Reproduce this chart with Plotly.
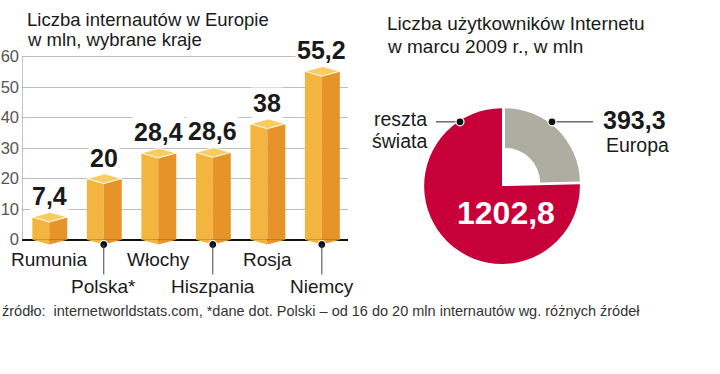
import plotly.graph_objects as go

# ---------------- data ----------------
countries = ["Rumunia", "Polska*", "Włochy", "Hiszpania", "Rosja", "Niemcy"]
users = [7.4, 20, 28.4, 28.6, 38, 55.2]
value_labels = ["7,4", "20", "28,4", "28,6", "38", "55,2"]
label_row = [0, 1, 0, 1, 0, 1]          # 0 = upper row, 1 = lower row with pointer
y_ticks = [0, 10, 20, 30, 40, 50, 60]

pie_labels = ["Europa", "reszta świata"]
pie_values = [393.3, 1202.8]
pie_value_labels = ["393,3", "1202,8"]

title_left = ["Liczba internautów w Europie", "w mln, wybrane kraje"]
title_right = ["Liczba użytkowników Internetu", "w marcu 2009 r., w mln"]
source = "źródło:  internetworldstats.com, *dane dot. Polski – od 16 do 20 mln internautów wg. różnych źródeł"

# ---------------- style ----------------
W, H = 720, 374
FONT = "Liberation Sans, Arial, sans-serif"
C_FRONT = "#F3B53F"
C_SIDE = "#E6932A"
C_TOP = "#F8CC5E"
C_RED = "#C8003A"
C_GREY = "#ADADA0"
WF, WS, D = 0.31, 0.33, 1.6   # front width, side width, iso depth (value units)
Y0, Y1 = -2.2, 60.4          # y range
PX_PER_UNIT = 188 / 60
Y_ZERO_PX = 238

def px(x):
    return x / W

def py(y):
    return 1 - y / H

idx = list(range(len(countries)))

fig = go.Figure()

# front and side faces
fig.add_trace(go.Bar(x=idx, y=users, offset=-WF, width=WF,
                     marker=dict(color=C_FRONT, line=dict(width=0)), hoverinfo="skip"))
fig.add_trace(go.Bar(x=idx, y=users, offset=0, width=WS,
                     marker=dict(color=C_SIDE, line=dict(width=0)), hoverinfo="skip"))

# bottom triangles (front corner below baseline)
bfx, bfy, bsx, bsy = [], [], [], []
for i, v in zip(idx, users):
    bfx += [i - WF, i, i, i - WF, None]
    bfy += [0, -D, 0, 0, None]
    bsx += [i, i + WS, i, i, None]
    bsy += [-D, 0, 0, -D, None]
fig.add_trace(go.Scatter(x=bfx, y=bfy, mode="lines", fill="toself", fillcolor=C_FRONT,
                         line=dict(width=0, color=C_FRONT), hoverinfo="skip"))
fig.add_trace(go.Scatter(x=bsx, y=bsy, mode="lines", fill="toself", fillcolor=C_SIDE,
                         line=dict(width=0, color=C_SIDE), hoverinfo="skip"))

# top faces
tx, ty = [], []
for i, v in zip(idx, users):
    tx += [i - WF, i, i + WS, i + WS - WF, i - WF, None]
    ty += [v, v - D, v, v + D, v, None]
fig.add_trace(go.Scatter(x=tx, y=ty, mode="lines", fill="toself", fillcolor=C_TOP,
                         line=dict(width=1, color="white"), hoverinfo="skip"))

# pointer dots for lower-row labels
dx = [i for i, r in zip(idx, label_row) if r == 1]
fig.add_trace(go.Scatter(x=dx, y=[-D] * len(dx), mode="markers", cliponaxis=False,
                         marker=dict(size=8, color="#111", line=dict(width=1.2, color="white")),
                         hoverinfo="skip"))

# ---------------- pie ----------------
# red part (rest of world)
fig.add_trace(go.Pie(values=pie_values, labels=pie_labels, sort=False, direction="clockwise",
                     rotation=0, textinfo="none", hoverinfo="skip",
                     marker=dict(colors=["rgba(0,0,0,0)", C_RED], line=dict(width=0)),
                     domain=dict(x=[px(422), px(582)], y=[py(263), py(103)])))
# grey part (Europe), slightly detached, with hole
fig.add_trace(go.Pie(values=pie_values, labels=pie_labels, sort=False, direction="clockwise",
                     rotation=0, textinfo="none", hoverinfo="skip", hole=0.47,
                     marker=dict(colors=[C_GREY, "rgba(0,0,0,0)"], line=dict(width=0)),
                     domain=dict(x=[px(428), px(582)], y=[py(257), py(103)])))

ann = []
# value labels above bars
for i, v, t in zip(idx, users, value_labels):
    ann.append(dict(x=i, y=v, xref="x", yref="y", text=t, showarrow=False,
                    xanchor="center", yanchor="middle", yshift=21, bgcolor="white",
                    font=dict(family=FONT, size=25, color="#1a1a1a", weight="bold")))
# category labels
for i, c, r in zip(idx, countries, label_row):
    if r == 0:
        ann.append(dict(x=i, y=0, xref="x", yref="y", text=c, showarrow=False,
                        xanchor="center", yanchor="middle", yshift=-20,
                        font=dict(family=FONT, size=19, color="#1a1a1a")))
    else:
        ann.append(dict(x=i, y=-D, xref="x", yref="y", text=c, showarrow=True,
                        arrowhead=0, arrowwidth=1, arrowcolor="#444", ax=0, ay=42,
                        standoff=0, startstandoff=0,
                        font=dict(family=FONT, size=19, color="#1a1a1a")))

# titles
for k, t in enumerate(title_left):
    ann.append(dict(x=px(25), y=py(12 + 20 * k), xref="paper", yref="paper", text=t,
                    showarrow=False, xanchor="left", yanchor="middle",
                    font=dict(family=FONT, size=18.5, color="#1a1a1a")))
for k, t in enumerate(title_right):
    ann.append(dict(x=px(385), y=py(16 + 24 * k), xref="paper", yref="paper", text=t,
                    showarrow=False, xanchor="left", yanchor="middle",
                    font=dict(family=FONT, size=19, color="#1a1a1a")))

# pie labels
ann.append(dict(x=px(506), y=py(211), xref="paper", yref="paper", text=pie_value_labels[1],
                showarrow=False, xanchor="center", yanchor="middle",
                font=dict(family=FONT, size=32, color="white", weight="bold")))
ann.append(dict(x=px(429), y=py(114), xref="paper", yref="paper", text="reszta",
                showarrow=False, xanchor="right", yanchor="middle",
                font=dict(family=FONT, size=19.5, color="#1a1a1a")))
ann.append(dict(x=px(429), y=py(137), xref="paper", yref="paper", text="świata",
                showarrow=False, xanchor="right", yanchor="middle",
                font=dict(family=FONT, size=19.5, color="#1a1a1a")))
ann.append(dict(x=px(601), y=py(115), xref="paper", yref="paper", text=pie_value_labels[0],
                showarrow=False, xanchor="left", yanchor="middle",
                font=dict(family=FONT, size=25, color="#1a1a1a", weight="bold")))
ann.append(dict(x=px(604), y=py(141), xref="paper", yref="paper", text=pie_labels[0],
                showarrow=False, xanchor="left", yanchor="middle",
                font=dict(family=FONT, size=19.5, color="#1a1a1a")))
# source
ann.append(dict(x=0, y=py(311), xref="paper", yref="paper", text=source,
                showarrow=False, xanchor="left", yanchor="middle",
                font=dict(family=FONT, size=14.5, color="#333")))

shapes = [
    # y axis line
    dict(type="line", xref="x", yref="y", x0=-0.5, x1=-0.5, y0=0, y1=60,
         line=dict(color="#888", width=1)),
    # pie pointer lines
    dict(type="line", xref="paper", yref="paper", x0=px(436), x1=px(459), y0=py(117), y1=py(117),
         line=dict(color="#222", width=1)),
    dict(type="line", xref="paper", yref="paper", x0=px(552), x1=px(593), y0=py(117), y1=py(117),
         line=dict(color="#222", width=1)),
]
for cx in (460, 552):
    shapes.append(dict(type="circle", xref="paper", yref="paper", xsizemode="pixel",
                       ysizemode="pixel", xanchor=px(cx), yanchor=py(117),
                       x0=-4, x1=4, y0=-4, y1=4,
                       fillcolor="#111", line=dict(color="white", width=1.2)))

y_dom_bottom = Y_ZERO_PX - Y0 * PX_PER_UNIT
y_dom_top = Y_ZERO_PX - Y1 * PX_PER_UNIT

fig.update_layout(
    width=W, height=H, margin=dict(l=0, r=0, t=0, b=0),
    paper_bgcolor="white", plot_bgcolor="white", showlegend=False,
    barmode="overlay", annotations=ann, shapes=shapes,
    xaxis=dict(domain=[px(22), px(348)], range=[-0.5, 5.48], showgrid=False,
               zeroline=False, showticklabels=False, showline=False, fixedrange=True),
    yaxis=dict(domain=[py(y_dom_bottom), py(y_dom_top)], range=[Y0, Y1], tickvals=y_ticks,
               showgrid=True, gridcolor="#bdbdbd", gridwidth=1,
               zeroline=True, zerolinecolor="#111", zerolinewidth=2,
               showline=False, ticks="", ticklabelstandoff=2,
               tickfont=dict(family=FONT, size=16.5, color="#555"), fixedrange=True),
)

fig.write_html("out.html", config={"displayModeBar": False, "staticPlot": True},
               post_script="document.body.style.margin='0';document.body.style.overflow='hidden';")
